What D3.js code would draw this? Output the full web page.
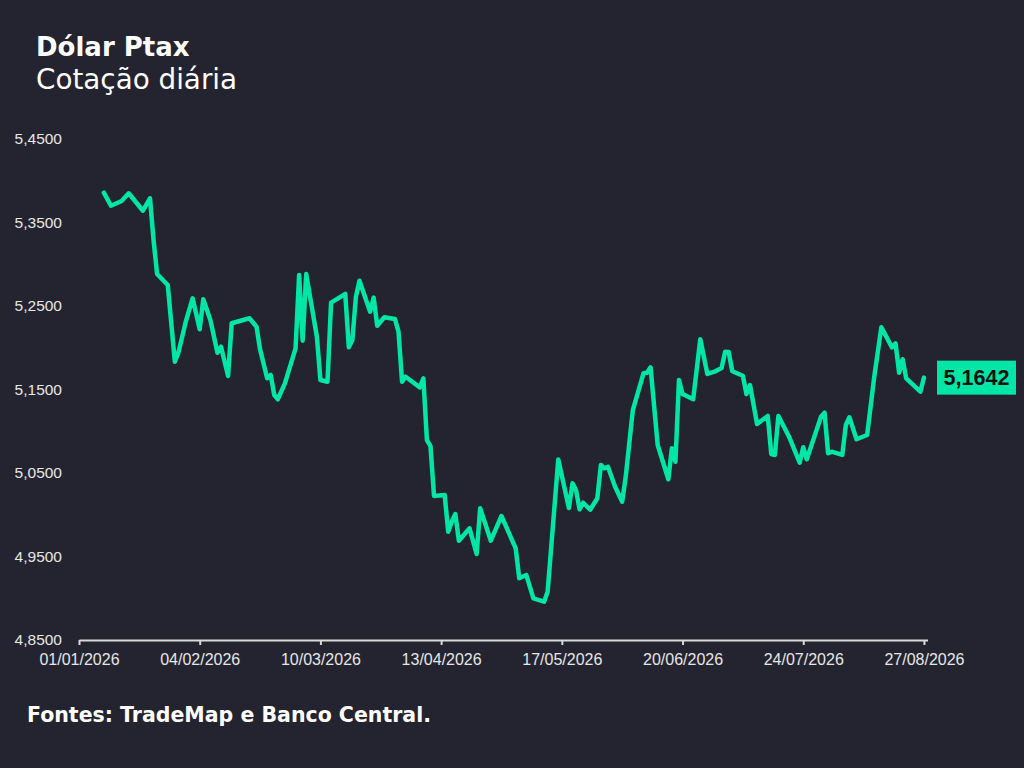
<!DOCTYPE html>
<html>
<head>
<meta charset="utf-8">
<script src="https://cdn.jsdelivr.net/npm/d3@7"></script>
<style>
  html, body { margin: 0; padding: 0; background: #242430; }
  svg { display: block; }
</style>
</head>
<body>
<script>
// Dólar Ptax - cotação diária
const dates = [
  "2026-01-08", "2026-01-10", "2026-01-13", "2026-01-15", "2026-01-19", "2026-01-21",
  "2026-01-22", "2026-01-23", "2026-01-26", "2026-01-28", "2026-01-29", "2026-01-31",
  "2026-02-02", "2026-02-04", "2026-02-05", "2026-02-07", "2026-02-09", "2026-02-10",
  "2026-02-12", "2026-02-13", "2026-02-18", "2026-02-20", "2026-02-21", "2026-02-23",
  "2026-02-24", "2026-02-25", "2026-02-26", "2026-02-28", "2026-03-03", "2026-03-04",
  "2026-03-05", "2026-03-06", "2026-03-09", "2026-03-10", "2026-03-12", "2026-03-13",
  "2026-03-17", "2026-03-18", "2026-03-19", "2026-03-20", "2026-03-21", "2026-03-24",
  "2026-03-25", "2026-03-26", "2026-03-28", "2026-03-31", "2026-04-01", "2026-04-02",
  "2026-04-03", "2026-04-07", "2026-04-08", "2026-04-09", "2026-04-10", "2026-04-11",
  "2026-04-14", "2026-04-15", "2026-04-16", "2026-04-17", "2026-04-18", "2026-04-21",
  "2026-04-23", "2026-04-24", "2026-04-27", "2026-04-30", "2026-05-04", "2026-05-05",
  "2026-05-07", "2026-05-09", "2026-05-12", "2026-05-13", "2026-05-16", "2026-05-19",
  "2026-05-20", "2026-05-21", "2026-05-22", "2026-05-23", "2026-05-25", "2026-05-27",
  "2026-05-28", "2026-05-29", "2026-05-30", "2026-06-01", "2026-06-03", "2026-06-04",
  "2026-06-06", "2026-06-09", "2026-06-10", "2026-06-11", "2026-06-13", "2026-06-16",
  "2026-06-17", "2026-06-18", "2026-06-19", "2026-06-20", "2026-06-23", "2026-06-25",
  "2026-06-27", "2026-06-29", "2026-07-01", "2026-07-02", "2026-07-03", "2026-07-04",
  "2026-07-07", "2026-07-08", "2026-07-09", "2026-07-11", "2026-07-14", "2026-07-15",
  "2026-07-16", "2026-07-17", "2026-07-20", "2026-07-23", "2026-07-24", "2026-07-25",
  "2026-07-29", "2026-07-30", "2026-07-31", "2026-08-01", "2026-08-04", "2026-08-05",
  "2026-08-06", "2026-08-08", "2026-08-11", "2026-08-13", "2026-08-15", "2026-08-18",
  "2026-08-19", "2026-08-20", "2026-08-21", "2026-08-22", "2026-08-26", "2026-08-27"
];

const ptax = [
  5.3857, 5.3701, 5.3757, 5.3850, 5.3641, 5.3790,
  5.3290, 5.2883, 5.2751, 5.1833, 5.1941, 5.2300,
  5.2592, 5.2221, 5.2580, 5.2332, 5.1941, 5.2013,
  5.1662, 5.2293, 5.2353, 5.2252, 5.1981, 5.1634,
  5.1674, 5.1434, 5.1383, 5.1574, 5.1993, 5.2871,
  5.2084, 5.2883, 5.2132, 5.1614, 5.1593, 5.2540,
  5.2644, 5.2005, 5.2093, 5.2611, 5.2803, 5.2432,
  5.2600, 5.2264, 5.2365, 5.2344, 5.2192, 5.1593,
  5.1653, 5.1526, 5.1634, 5.0895, 5.0823, 5.0225,
  5.0237, 4.9797, 4.9917, 5.0009, 4.9689, 4.9838,
  4.9530, 5.0077, 4.9689, 4.9985, 4.9598, 4.9239,
  4.9278, 4.8999, 4.8959, 4.9078, 5.0662, 5.0081,
  5.0377, 5.0296, 5.0065, 5.0144, 5.0060, 5.0197,
  5.0596, 5.0556, 5.0575, 5.0336, 5.0156, 5.0456,
  5.1254, 5.1694, 5.1701, 5.1766, 5.0835, 5.0425,
  5.0796, 5.0635, 5.1614, 5.1446, 5.1383, 5.2101,
  5.1686, 5.1713, 5.1757, 5.1953, 5.1949, 5.1719,
  5.1665, 5.1446, 5.1554, 5.1087, 5.1183, 5.0728,
  5.0716, 5.1183, 5.0935, 5.0623, 5.0808, 5.0664,
  5.1174, 5.1222, 5.0736, 5.0755, 5.0716, 5.1075,
  5.1167, 5.0904, 5.0955, 5.1653, 5.2245, 5.2005,
  5.2053, 5.1701, 5.1862, 5.1634, 5.1474, 5.1642
];

const xTickDates = ["2026-01-01", "2026-02-04", "2026-03-10", "2026-04-13",
                    "2026-05-17", "2026-06-20", "2026-07-24", "2026-08-27"];
const yTicks = [4.85, 4.95, 5.05, 5.15, 5.25, 5.35, 5.45];

const width = 1024;
const height = 768;
const green = "#00e6a6";
const axisColor = "#d9d9d9";
const titleFont = "'DejaVu Sans', sans-serif";

const parse = d3.utcParse("%Y-%m-%d");
const fmtDate = d3.utcFormat("%d/%m/%Y");
const fmtVal = v => d3.format(".4f")(v).replace(".", ",");

const data = dates.map((d, i) => ({ date: parse(d), value: ptax[i] }));

const svg = d3.select("body").append("svg")
  .attr("width", width)
  .attr("height", height);

svg.append("rect")
  .attr("width", width)
  .attr("height", height)
  .attr("fill", "#242430");

const x = d3.scaleUtc()
  .domain([parse("2026-01-01"), parse("2026-08-28")])
  .range([79, 927.5]);

const y = d3.scaleLinear()
  .domain([4.85, 5.45])
  .range([640, 139]);

// eixo x
const xAxis = svg.append("g")
  .attr("transform", "translate(0,640)")
  .call(d3.axisBottom(x)
    .tickValues(xTickDates.map(parse))
    .tickFormat(fmtDate)
    .tickSize(5)
    .tickSizeOuter(0));

xAxis.select(".domain").attr("stroke", axisColor).attr("stroke-width", 2);
xAxis.selectAll(".tick line").attr("stroke", axisColor).attr("stroke-width", 2);
xAxis.selectAll(".tick text")
  .attr("fill", "#e6e6e6")
  .attr("dy", "1.05em")
  .style("font-family", "'Liberation Sans', Arial, sans-serif")
  .style("font-size", "16px");

// eixo y (apenas rótulos)
const yAxis = svg.append("g")
  .attr("transform", "translate(62,0)")
  .call(d3.axisLeft(y)
    .tickValues(yTicks)
    .tickFormat(fmtVal)
    .tickSize(0)
    .tickPadding(0));

yAxis.select(".domain").remove();
yAxis.selectAll(".tick text")
  .attr("fill", "#e6e6e6")
  .style("font-family", "'Liberation Sans', Arial, sans-serif")
  .style("font-size", "15.5px");

// linha
const line = d3.line()
  .x(d => x(d.date))
  .y(d => y(d.value));

svg.append("path")
  .datum(data)
  .attr("fill", "none")
  .attr("stroke", green)
  .attr("stroke-width", 4.5)
  .attr("stroke-linejoin", "round")
  .attr("stroke-linecap", "round")
  .attr("d", line);

// rótulo do último valor
const last = data[data.length - 1];
const ly = y(last.value);

svg.append("rect")
  .attr("x", 937)
  .attr("y", ly - 17)
  .attr("width", 79)
  .attr("height", 34)
  .attr("fill", green);

svg.append("text")
  .attr("x", 976.5)
  .attr("y", ly)
  .attr("dy", "0.36em")
  .attr("text-anchor", "middle")
  .attr("fill", "#111")
  .style("font-family", "'Liberation Sans', Arial, sans-serif")
  .style("font-weight", "bold")
  .style("font-size", "21.5px")
  .text(fmtVal(last.value));

// títulos
svg.append("text")
  .attr("x", 36)
  .attr("y", 56)
  .attr("fill", "#ffffff")
  .style("font-family", titleFont)
  .style("font-weight", "700")
  .style("font-size", "26px")
  .text("Dólar Ptax");

svg.append("text")
  .attr("x", 36)
  .attr("y", 89)
  .attr("fill", "#ffffff")
  .style("font-family", titleFont)
  .style("font-weight", "400")
  .style("font-size", "27.8px")
  .text("Cotação diária");

svg.append("text")
  .attr("x", 27)
  .attr("y", 722)
  .attr("fill", "#ffffff")
  .style("font-family", titleFont)
  .style("font-weight", "700")
  .style("font-size", "20.5px")
  .text("Fontes: TradeMap e Banco Central.");
</script>
</body>
</html>
